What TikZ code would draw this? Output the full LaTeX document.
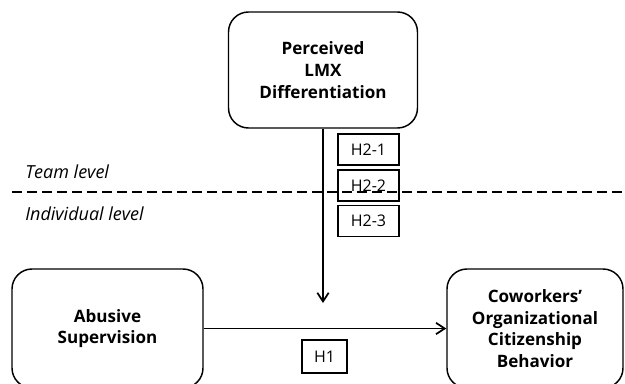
\documentclass[tikz,border=0pt]{standalone}
\usepackage{fontspec}
\setmainfont{Open Sans}
\usetikzlibrary{arrows.meta}
\begin{document}
\begin{tikzpicture}[x=0.75pt,y=-0.75pt,
  construct/.style={draw,line width=1.1pt,rounded corners=15pt,align=center,
    font=\bfseries\fontsize{12.8}{16.2}\selectfont,inner sep=0pt},
  hypo/.style={draw,line width=0.8pt,inner sep=0pt,minimum width=45.75pt,
    minimum height=23.25pt,font=\fontsize{12}{14}\selectfont},
  path/.style={line width=1.4pt,-{Straight Barb[length=6.5pt,width=8.5pt,line width=1.3pt]}},
  levelline/.style={line width=1.1pt,dash pattern=on 7.5pt off 3.75pt},
  levellabel/.style={anchor=west,inner sep=0pt,font=\itshape\fontsize{13.5}{16}\selectfont}]
\useasboundingbox (0,0) rectangle (625,383);
\clip (0,0) rectangle (625,383);

% constructs
\node[construct,minimum width=141.75pt,minimum height=87pt] (lmx) at (323,70)
  {Perceived\\LMX\\Differentiation};
\node[construct,minimum width=143.25pt,minimum height=89.25pt] (abs) at (107.5,328.5)
  {Abusive\\Supervision};
\node[construct,minimum width=132pt,minimum height=89.25pt] (ocb) at (535,328.5)
  {Coworkers’\\Organizational\\Citizenship\\Behavior};

% level boundary
\coordinate (dl) at (12,192);
\coordinate (dr) at (627,192);
\draw[levelline] (dl) -- (dr);
\node[levellabel] (team) at (25,172) {Team level};
\node[levellabel] (indiv) at (25,214) {Individual level};

% hypothesis labels
\node[hypo] (h21) at (368.5,149.5) {H2-1};
\node[hypo] (h22) at (368.5,185.5) {H2-2};
\node[hypo] (h23) at (368.5,221) {H2-3};
\node[hypo,minimum width=33.75pt,minimum height=24.75pt] (h1) at (324.5,356.5) {H1};

% paths
\coordinate (mod) at (323,303);
\draw[path] (lmx.south) -- (mod);
\draw[path] (abs.east) -- (ocb.west);
\end{tikzpicture}
\end{document}
